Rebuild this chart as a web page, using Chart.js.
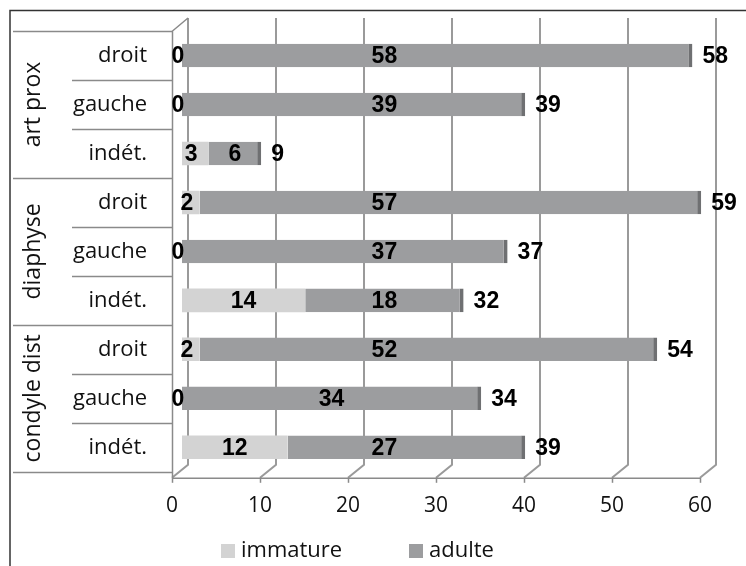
<!DOCTYPE html>
<html>
<head>
<meta charset="utf-8">
<script src="https://cdn.jsdelivr.net/npm/chart.js@4.4.0/dist/chart.umd.min.js"></script>
<style>
html,body{margin:0;padding:0;background:#fff;}
#wrap{position:relative;width:746px;height:566px;}
</style>
</head>
<body>
<div id="wrap"><canvas id="c" width="746" height="566"></canvas></div>
<script>
const groups = ["art prox", "diaphyse", "condyle dist"];
const subLabels = ["droit", "gauche", "indét.", "droit", "gauche", "indét.", "droit", "gauche", "indét."];
const immature = [0, 0, 3, 2, 0, 14, 2, 0, 12];
const adulte = [58, 39, 6, 57, 37, 18, 52, 34, 27];
const xTicks = [0, 10, 20, 30, 40, 50, 60];

const labelFont = "'Open Sans', sans-serif";
const valueFont = "bold 23px 'Liberation Sans', Arial, sans-serif";
const FRONT = -10, BACK = 6;   // 3D depth offsets of front axis and back wall

const decor = {
  id: 'decor',
  beforeDraw(chart) {
    const ctx = chart.ctx;
    ctx.save();
    ctx.fillStyle = '#fff';
    ctx.fillRect(0, 0, chart.width, chart.height);
    ctx.strokeStyle = '#333';
    ctx.lineWidth = 1.5;
    ctx.beginPath();
    ctx.moveTo(10, 566); ctx.lineTo(10, 10.5); ctx.lineTo(746, 10.5);
    ctx.stroke();
  
    const x = chart.scales.x, area = chart.chartArea;
    const floorBack = area.bottom - 7, floorFront = area.bottom + 6;
    const topBack = 18, topFront = topBack + 13;
    ctx.strokeStyle = '#9a9a9a';
    ctx.lineWidth = 2;
    xTicks.forEach(t => {
      const pb = Math.round(x.getPixelForValue(t) + BACK);
      const pf = Math.round(x.getPixelForValue(t) + FRONT);
      ctx.beginPath();
      ctx.moveTo(pb, topBack);
      ctx.lineTo(pb, floorBack);
      ctx.lineTo(pf, floorFront);
      ctx.stroke();
    });
    const lf = Math.round(x.getPixelForValue(0) + FRONT) + 0.5;
    const lb = Math.round(x.getPixelForValue(0) + BACK);
    ctx.lineWidth = 1.5;
    ctx.strokeStyle = '#8a8a8a';
    ctx.beginPath();
    ctx.moveTo(lb, topBack);
    ctx.lineTo(lf, topFront);
    ctx.lineTo(lf, floorFront);
    ctx.stroke();
    ctx.beginPath();
    ctx.moveTo(lf, floorFront + 0.5);
    ctx.lineTo(x.getPixelForValue(60) + FRONT, floorFront + 0.5);
    ctx.stroke();
    xTicks.forEach(t => {
      const pf = Math.round(x.getPixelForValue(t) + FRONT) + 0.5;
      ctx.beginPath();
      ctx.moveTo(pf, floorFront);
      ctx.lineTo(pf, floorFront + 5);
      ctx.stroke();
    });
    ctx.restore();
  },
  afterDraw(chart) {
    const ctx = chart.ctx;
    const y = chart.scales.y, x = chart.scales.x;
    const n = subLabels.length;
    const step = y.getPixelForValue(1) - y.getPixelForValue(0);
    const lf = Math.round(x.getPixelForValue(0) + FRONT);
    ctx.save();
    ctx.strokeStyle = '#8a8a8a';
    ctx.lineWidth = 1.5;
    for (let i = 0; i <= n; i++) {
      const py = Math.round(y.getPixelForValue(i) - step / 2) + 0.5;
      ctx.beginPath();
      ctx.moveTo(i % 3 === 0 ? 13 : 72, py);
      ctx.lineTo(lf, py);
      ctx.stroke();
    }
    ctx.fillStyle = '#111';
    ctx.font = "22px " + labelFont;
    ctx.textAlign = 'right';
    ctx.textBaseline = 'middle';
    subLabels.forEach((s, i) => {
      ctx.fillText(s, 147, y.getPixelForValue(i));
    });
    ctx.font = "23px " + labelFont;
    ctx.textAlign = 'center';
    groups.forEach((g, gi) => {
      const cy = y.getPixelForValue(gi * 3 + 1);
      ctx.save();
      ctx.translate(33, cy);
      ctx.rotate(-Math.PI / 2);
      ctx.fillText(g, 0, 0);
      ctx.restore();
    });
    ctx.font = valueFont;
    ctx.fillStyle = '#000';
    ctx.textBaseline = 'middle';
    const m0 = chart.getDatasetMeta(0);
    for (let i = 0; i < n; i++) {
      const py = m0.data[i].y + 1;
      const a = immature[i], b = adulte[i];
      ctx.textAlign = 'center';
      const ix = x.getPixelForValue(a / 2) - (a < 10 ? 4 : 0);
      ctx.fillText(String(a), ix, py);
      const cv = b >= 36 ? 23 : Math.min(a + b / 2, 23);
      ctx.fillText(String(b), x.getPixelForValue(cv), py);
      ctx.textAlign = 'left';
      ctx.fillText(String(a + b), x.getPixelForValue(a + b) + 10, py);
    }
    const ds = chart.data.datasets;
    const legX = [221, 409];
    ctx.font = "22px " + labelFont;
    ctx.textAlign = 'left';
    ctx.textBaseline = 'middle';
    ds.forEach((d, k) => {
      ctx.fillStyle = d.backgroundColor;
      ctx.fillRect(legX[k], 544, 14, 14);
      ctx.fillStyle = '#111';
      ctx.fillText(d.label, legX[k] + 20, 551);
    });
    ctx.restore();
  }
};

new Chart(document.getElementById('c'), {
  type: 'bar',
  data: {
    labels: subLabels,
    datasets: [
      { label: 'immature', data: immature, backgroundColor: '#d3d3d3', borderWidth: 0, barPercentage: 0.48, categoryPercentage: 1 },
      { label: 'adulte', data: adulte, backgroundColor: '#9c9d9f', borderColor: '#6f7072', borderWidth: {right: 4, top: 0, bottom: 0, left: 0}, barPercentage: 0.48, categoryPercentage: 1 }
    ]
  },
  plugins: [decor],
  options: {
    indexAxis: 'y',
    responsive: false,
    animation: false,
    layout: { padding: { left: 182, right: 36, top: 31, bottom: 33 } },
    scales: {
      x: {
        stacked: true, min: 0, max: 60,
        ticks: { stepSize: 10, color: '#111', labelOffset: FRONT, font: { family: "'Open Sans', sans-serif", size: 21 }, padding: 14 },
        grid: { display: false },
        border: { display: false }
      },
      y: { stacked: true, display: false }
    },
    plugins: {
      legend: { display: false },
      tooltip: { enabled: false }
    }
  }
});
</script>
</body>
</html>
